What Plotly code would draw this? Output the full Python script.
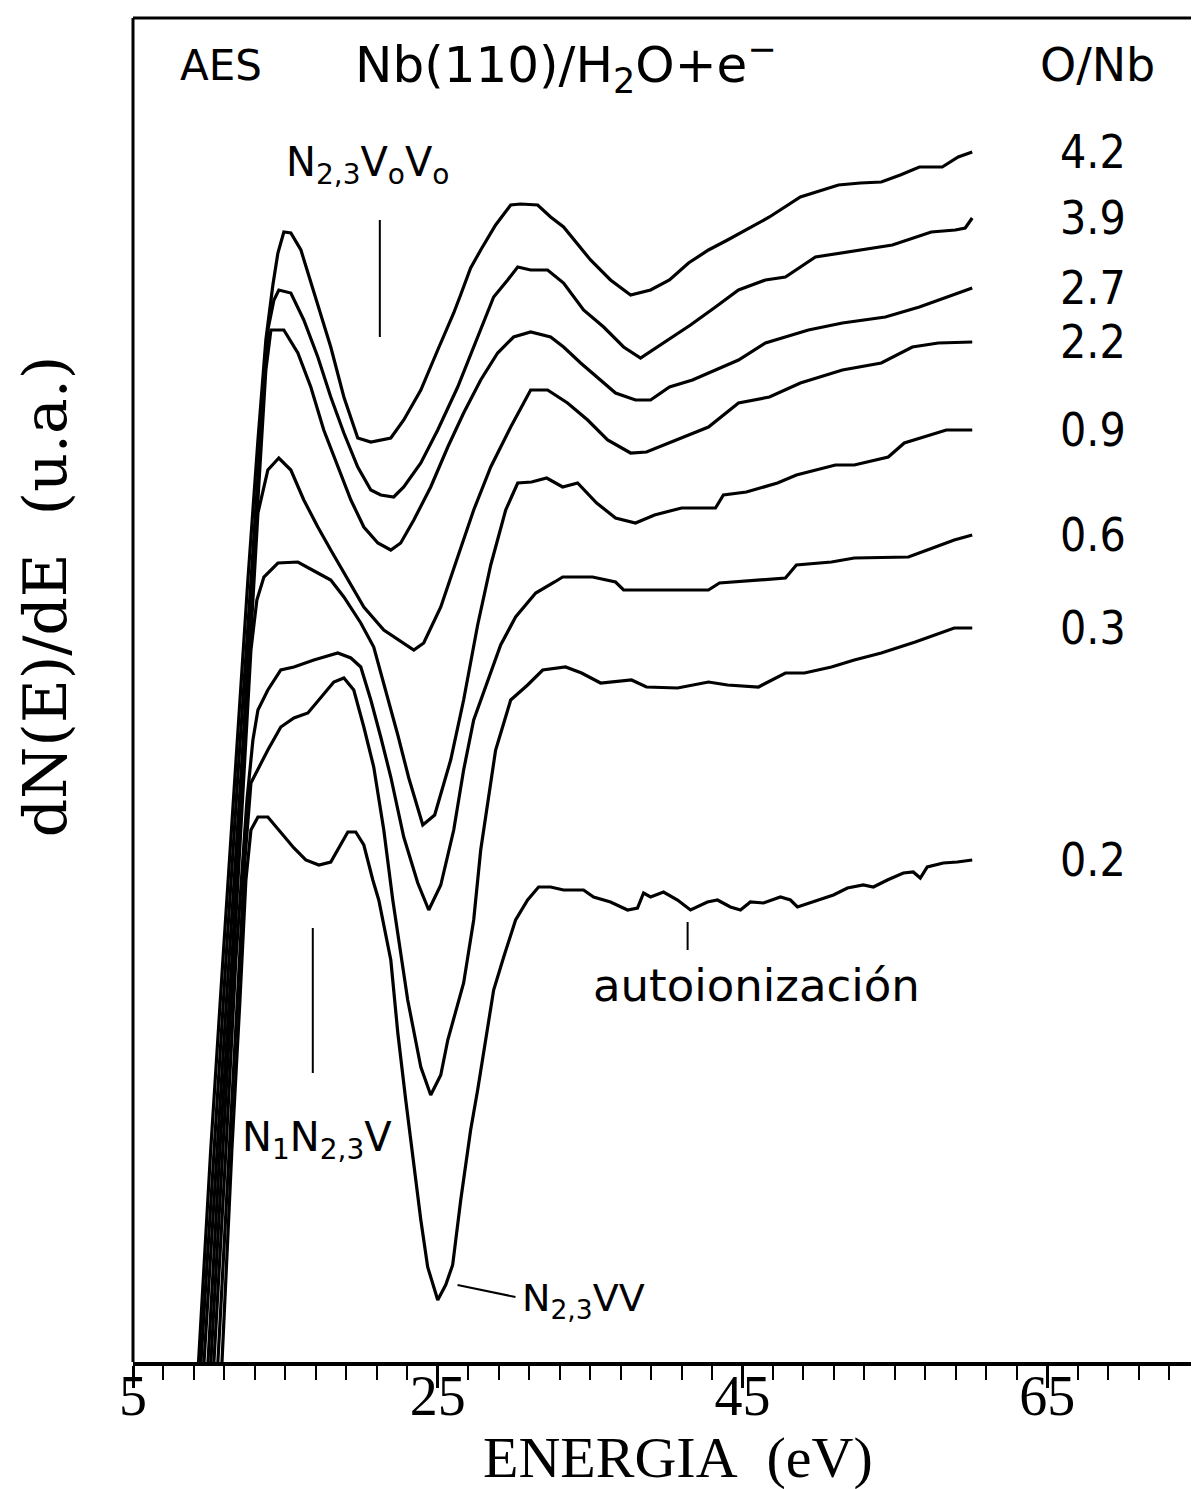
import plotly.graph_objects as go

# O/Nb ratio of each spectrum (top to bottom)
ratios = ["4.2", "3.9", "2.7", "2.2", "0.9", "0.6", "0.3", "0.2"]

# energy (eV) and dN(E)/dE (arbitrary units, already offset)
e_42 = [9.3, 10.1, 10.9, 11.75, 12.54, 13.2, 13.72, 14.18, 14.51, 14.9, 15.36, 16.02, 16.48, 17.13, 17.98, 18.84,
        19.75, 20.61, 21.92, 22.77, 23.89, 25.0, 26.05, 26.5, 27.16, 27.82, 28.8, 29.79, 30.44, 31.56, 32.41, 33.26,
        35.03, 36.34, 37.66, 38.97, 40.21, 41.46, 42.77, 44.02, 45.52, 46.77, 48.8, 51.3, 52.74, 54.11, 55.36, 56.61,
        58.11, 59.16, 60.08]
i_42 = [0, 2.12, 4.02, 6.02, 7.82, 9.22, 10.22, 10.77, 11.09, 11.30, 11.29, 11.12, 10.89, 10.59, 10.15, 9.65,
        9.24, 9.20, 9.24, 9.42, 9.72, 10.12, 10.49, 10.67, 10.94, 11.12, 11.37, 11.57, 11.58, 11.57, 11.45, 11.35,
        11.02, 10.82, 10.67, 10.72, 10.82, 10.99, 11.12, 11.22, 11.35, 11.45, 11.65, 11.77, 11.79, 11.80, 11.87, 11.95,
        11.95, 12.05, 12.10]

e_39 = [9.46, 10.31, 11.1, 11.95, 12.74, 13.33, 13.85, 14.25, 14.57, 15.36, 16.21, 17.13, 17.98, 18.84, 19.75, 20.61,
        21.26, 22.11, 22.77, 23.89, 25.0, 26.31, 27.62, 28.67, 29.59, 30.25, 31.1, 32.21, 33.26, 34.57, 35.89, 37.2,
        38.31, 39.62, 41.59, 43.23, 44.74, 46.51, 47.82, 49.79, 51.43, 52.87, 54.84, 57.39, 58.97, 59.62, 60.08]
i_39 = [0, 2.12, 4.02, 6.02, 7.82, 9.22, 10.32, 10.62, 10.72, 10.69, 10.42, 10.05, 9.65, 9.29, 8.95, 8.72,
        8.67, 8.65, 8.75, 8.99, 9.32, 9.75, 10.25, 10.65, 10.82, 10.95, 10.92, 10.92, 10.79, 10.52, 10.35, 10.15,
        10.04, 10.17, 10.37, 10.55, 10.72, 10.82, 10.85, 11.05, 11.09, 11.12, 11.17, 11.30, 11.32, 11.34, 11.44]

e_27 = [9.66, 10.51, 11.3, 12.15, 12.87, 13.39, 13.72, 14.05, 14.9, 15.82, 16.67, 17.52, 18.44, 19.3, 20.15, 21.07,
        21.92, 22.57, 23.43, 24.54, 25.66, 26.7, 27.82, 28.93, 29.98, 31.1, 32.41, 33.26, 34.38, 35.69, 36.67, 37.98,
        38.97, 40.21, 41.72, 43.23, 44.74, 46.51, 49.33, 51.56, 54.38, 56.61, 58.38, 60.08]
i_27 = [0, 2.12, 4.02, 6.02, 7.82, 9.12, 9.92, 10.32, 10.32, 10.09, 9.75, 9.32, 8.95, 8.62, 8.35, 8.19,
        8.12, 8.19, 8.42, 8.75, 9.15, 9.49, 9.82, 10.09, 10.25, 10.30, 10.25, 10.15, 9.99, 9.82, 9.69, 9.62,
        9.62, 9.75, 9.82, 9.92, 10.02, 10.19, 10.32, 10.39, 10.45, 10.55, 10.65, 10.74]

e_22 = [9.92, 10.7, 11.49, 12.28, 12.87, 13.2, 13.85, 14.57, 15.36, 16.21, 17.13, 17.98, 19.1, 20.15, 21.46, 22.77,
        23.43, 24.08, 25.2, 26.31, 27.36, 28.48, 29.79, 31.1, 32.21, 33.52, 34.84, 36.15, 37.66, 38.7, 40.21, 42.77,
        44.74, 46.77, 48.8, 51.56, 54.11, 56.15, 57.85, 60.08]
i_22 = [0, 2.12, 4.02, 6.02, 7.62, 8.49, 8.92, 9.04, 8.92, 8.62, 8.35, 8.12, 7.82, 7.55, 7.32, 7.19,
        7.12, 7.19, 7.55, 8.05, 8.52, 8.95, 9.35, 9.72, 9.72, 9.59, 9.42, 9.22, 9.09, 9.10, 9.19, 9.35,
        9.59, 9.65, 9.79, 9.92, 9.99, 10.15, 10.19, 10.20]

e_09 = [10.11, 10.9, 11.62, 12.28, 12.74, 13.13, 13.59, 14.51, 15.82, 17.13, 17.98, 18.84, 19.95, 20.8, 21.59, 22.38,
        23.1, 24.02, 24.8, 25.85, 26.7, 27.62, 28.48, 29.46, 30.25, 31.16, 32.15, 33.2, 34.18, 35.43, 36.67, 37.98,
        39.23, 41.0, 43.23, 43.75, 45.26, 47.3, 48.54, 51.1, 52.34, 54.57, 55.62, 58.38, 60.08]
i_09 = [0, 2.12, 4.02, 5.82, 7.12, 7.62, 7.85, 7.99, 8.00, 7.89, 7.82, 7.65, 7.39, 7.15, 6.72, 6.27,
        5.84, 5.37, 5.47, 6.02, 6.62, 7.37, 7.97, 8.52, 8.79, 8.80, 8.84, 8.75, 8.79, 8.59, 8.44, 8.39,
        8.47, 8.54, 8.54, 8.67, 8.70, 8.79, 8.87, 8.97, 8.97, 9.05, 9.19, 9.32, 9.32]

e_06 = [10.31, 11.1, 11.75, 12.48, 12.87, 13.2, 13.85, 14.7, 15.56, 16.87, 18.44, 19.3, 19.95, 20.61, 21.26, 21.92,
        22.77, 23.69, 24.41, 25.2, 26.05, 26.7, 27.36, 28.28, 29.13, 30.11, 31.43, 32.67, 33.2, 35.16, 36.67, 37.2,
        40.21, 42.77, 43.49, 47.82, 48.54, 50.84, 52.34, 55.89, 57.13, 58.9, 60.08]
i_06 = [0, 2.12, 4.02, 5.62, 6.22, 6.52, 6.72, 6.92, 6.95, 7.02, 7.09, 7.04, 6.95, 6.62, 6.25, 5.85,
        5.25, 4.79, 4.52, 4.77, 5.32, 5.92, 6.42, 6.82, 7.17, 7.45, 7.69, 7.80, 7.85, 7.85, 7.80, 7.72,
        7.72, 7.72, 7.79, 7.84, 7.97, 8.00, 8.04, 8.05, 8.12, 8.22, 8.27]

e_03 = [10.57, 11.3, 11.89, 12.34, 12.74, 13.85, 14.7, 15.56, 16.48, 17.33, 18.18, 18.84, 19.49, 20.15, 20.8, 21.46,
        22.05, 23.03, 23.89, 24.54, 25.2, 25.66, 26.7, 27.36, 27.82, 28.8, 29.79, 30.9, 31.89, 33.39, 34.44, 35.69,
        37.72, 38.7, 40.74, 42.77, 44.02, 46.05, 47.82, 49.07, 50.84, 52.34, 54.11, 56.34, 58.9, 60.08]
i_03 = [0, 2.12, 3.82, 5.02, 5.79, 6.12, 6.35, 6.44, 6.49, 6.65, 6.80, 6.84, 6.72, 6.35, 5.95, 5.32,
        4.62, 3.62, 2.95, 2.67, 2.87, 3.22, 3.79, 4.42, 5.12, 6.12, 6.62, 6.77, 6.92, 6.95, 6.89, 6.79,
        6.82, 6.75, 6.74, 6.80, 6.77, 6.75, 6.89, 6.89, 6.95, 7.02, 7.09, 7.20, 7.34, 7.34]

e_02 = [10.84, 11.49, 12.02, 12.41, 12.74, 13.2, 13.85, 14.7, 15.56, 16.34, 17.2, 17.98, 18.64, 19.1, 19.62, 20.15,
        20.74, 21.13, 21.92, 22.38, 22.9, 23.43, 23.89, 24.34, 25.0, 25.52, 25.98, 26.51, 27.16, 27.62, 28.15, 28.67,
        29.33, 30.11, 30.9, 31.62, 32.41, 33.26, 34.57, 35.23, 36.34, 37.46, 38.11, 38.51, 38.97, 39.82, 40.74, 41.59,
        42.7, 43.36, 44.21, 44.87, 45.52, 46.38, 47.49, 48.15, 48.61, 49.66, 50.97, 51.89, 52.93, 53.59, 54.51, 55.56,
        56.21, 56.67, 57.13, 58.18, 59.1, 60.08]
i_02 = [0, 2.12, 3.62, 4.82, 5.32, 5.45, 5.45, 5.29, 5.14, 5.02, 4.97, 5.00, 5.17, 5.30, 5.30, 5.17,
        4.82, 4.62, 4.02, 3.29, 2.62, 1.95, 1.42, 0.95, 0.62, 0.77, 0.97, 1.62, 2.32, 2.72, 3.22, 3.72,
        4.05, 4.42, 4.62, 4.75, 4.75, 4.72, 4.72, 4.65, 4.60, 4.52, 4.54, 4.69, 4.65, 4.70, 4.62, 4.52,
        4.60, 4.62, 4.55, 4.52, 4.60, 4.59, 4.65, 4.62, 4.55, 4.60, 4.67, 4.74, 4.77, 4.75, 4.82, 4.89,
        4.90, 4.84, 4.95, 4.99, 5.00, 5.02]

energies = [e_42, e_39, e_27, e_22, e_09, e_06, e_03, e_02]
signals = [i_42, i_39, i_27, i_22, i_09, i_06, i_03, i_02]

# Auger transitions marked on the figure (eV)
mark_n23v0v0 = 21.2
mark_n1n23v = 16.8
mark_autoion = 41.4

fig = go.Figure()

narrow = "Liberation Sans Narrow, DejaVu Sans Condensed, DejaVu Sans"

for e, s, r in zip(energies, signals, ratios):
    fig.add_trace(go.Scatter(x=e, y=s, mode="lines", name=r,
                             line=dict(color="black", width=3.2)))
    # ratio label at the right end of each spectrum
    fig.add_annotation(x=68.0, y=s[-1], text=r, showarrow=False, xanchor="center", yanchor="middle",
                       font=dict(family=narrow, size=46, color="black"))

sans = dict(family="DejaVu Sans", color="black")


def label(x, y, text, size, xanchor="center"):
    fig.add_annotation(x=x, y=y, text=text, showarrow=False, xanchor=xanchor, yanchor="middle",
                       font=dict(sans, size=size))


label(10.8, 12.97, "AES", 42)
label(33.4, 12.97, "Nb(110)/H<sub>2</sub>O+e<sup>\u2212</sup>", 50)
label(68.3, 12.97, "O/Nb", 46)
label(20.4, 11.97, "N<sub>2,3</sub>V<sub>o</sub>V<sub>o</sub>", 40)
label(17.1, 2.22, "N<sub>1</sub>N<sub>2,3</sub>V", 40)
label(30.4, 0.62, "N<sub>2,3</sub>VV", 38, xanchor="left")
label(45.9, 3.77, "autoionizaci\u00f3n", 45)

# marker ticks
fig.add_shape(type="line", x0=mark_n23v0v0, x1=mark_n23v0v0, y0=10.25, y1=11.42, line=dict(color="black", width=2))
fig.add_shape(type="line", x0=mark_n1n23v, x1=mark_n1n23v, y0=2.89, y1=4.34, line=dict(color="black", width=2))
fig.add_shape(type="line", x0=mark_autoion, x1=mark_autoion, y0=4.12, y1=4.40, line=dict(color="black", width=2))
fig.add_shape(type="line", x0=26.3, x1=30.1, y0=0.77, y1=0.65, line=dict(color="black", width=2))

# frame (left, top, right)
fig.add_shape(type="line", xref="paper", yref="paper", x0=0, x1=0, y0=0, y1=1, line=dict(color="black", width=3))
fig.add_shape(type="line", xref="paper", yref="paper", x0=0, x1=1, y0=1, y1=1, line=dict(color="black", width=3))
fig.add_shape(type="line", xref="paper", yref="paper", x0=1, x1=1, y0=0, y1=1, line=dict(color="black", width=2))

fig.add_annotation(xref="paper", yref="paper", x=0.514, y=-0.071, text="ENERGIA\u00a0\u00a0(eV)",
                   showarrow=False, xanchor="center", yanchor="middle",
                   font=dict(family="Liberation Serif", color="black", size=58))
fig.add_annotation(xref="paper", yref="paper", x=-0.083, y=0.569, text="dN(E)/dE\u00a0\u00a0(u.a.)",
                   showarrow=False, textangle=-90, xanchor="center", yanchor="middle",
                   font=dict(family="DejaVu Serif", color="black", size=60))

fig.update_xaxes(range=[5, 74.57], showgrid=False, zeroline=False,
                 showline=True, linecolor="black", linewidth=4,
                 ticks="outside", tick0=5, dtick=20, ticklen=22, tickwidth=3, tickcolor="black",
                 minor=dict(ticks="outside", tick0=5, dtick=2, ticklen=14, tickwidth=2, tickcolor="black"),
                 ticklabelstandoff=-40,
                 tickfont=dict(family="Liberation Serif", color="black", size=56))
fig.update_yaxes(range=[0, 13.44], showgrid=False, zeroline=False, showticklabels=False, ticks="")

# the page body adds 8 px around the figure
fig.update_layout(width=1191, height=1481, showlegend=False,
                  plot_bgcolor="white", paper_bgcolor="white",
                  margin=dict(l=125, r=6, t=10, b=127))

fig.write_html("out.html")
